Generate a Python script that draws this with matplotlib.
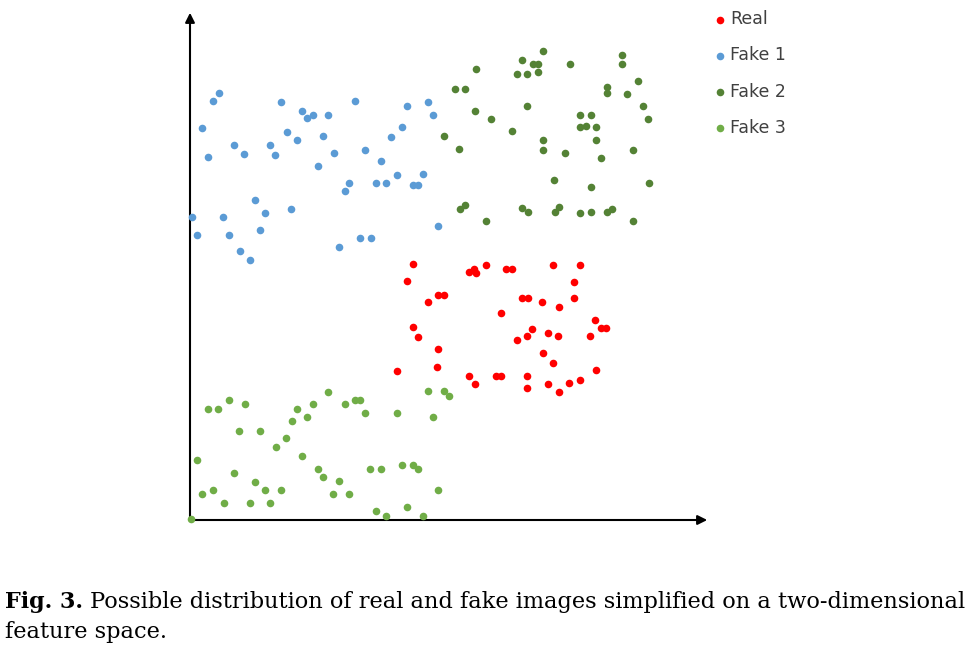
import matplotlib
matplotlib.use("Agg")
import matplotlib.pyplot as plt
import numpy as np

real_px = [(407,281),(413,264),(428,302),(438,295),(444,295),(469,272),(474,269),(476,273),(486,265),(506,269),(512,269),(553,265),(580,265),(574,282),(522,298),(528,298),(542,302),(559,307),(574,298),(501,313),(413,327),(418,337),(438,349),(532,329),(527,336),(517,340),(548,333),(558,336),(590,336),(595,320),(601,328),(606,328),(543,353),(553,363),(437,367),(397,371),(469,376),(475,384),(496,376),(501,376),(527,376),(527,388),(548,384),(559,392),(569,383),(580,380),(596,370)]
fake1_px = [(192,217),(197,235),(202,128),(208,157),(213,101),(219,93),(223,217),(229,235),(234,145),(240,251),(244,154),(250,260),(255,200),(260,230),(265,213),(270,145),(275,155),(281,102),(287,132),(291,209),(297,140),(302,111),(307,118),(313,115),(318,166),(323,136),(328,115),(334,153),(339,247),(345,191),(349,183),(355,101),(360,238),(365,150),(371,238),(376,183),(381,161),(386,183),(391,137),(397,175),(402,127),(407,106),(413,185),(418,185),(423,174),(428,102),(433,115),(438,226)]
fake2_px = [(455,89),(465,89),(476,69),(459,149),(465,205),(460,209),(475,111),(486,221),(491,119),(512,131),(517,74),(522,60),(527,74),(527,106),(533,64),(538,64),(538,72),(543,51),(522,208),(528,212),(543,140),(543,150),(554,180),(559,207),(565,153),(570,64),(580,115),(580,127),(586,126),(591,115),(596,127),(591,187),(591,212),(596,140),(601,158),(607,212),(607,93),(607,87),(612,209),(622,55),(622,64),(627,94),(633,150),(633,221),(638,81),(643,106),(648,119),(649,183),(580,213),(555,212),(444,136)]
fake3_px = [(191,519),(197,460),(202,494),(208,409),(213,490),(218,409),(224,503),(229,400),(234,473),(239,431),(245,404),(250,503),(255,482),(260,431),(265,490),(270,503),(276,447),(281,490),(286,438),(292,421),(297,409),(302,456),(307,417),(313,404),(318,469),(323,477),(328,392),(333,494),(339,481),(345,404),(349,494),(355,400),(360,400),(365,413),(370,469),(376,511),(381,469),(386,516),(397,413),(402,465),(407,507),(413,465),(418,469),(423,516),(428,391),(433,417),(438,490),(444,391),(449,396)]

def conv(pts):
    a = np.array(pts, float)
    return (a[:,0]-190)/10, (520-a[:,1])/10

series = [("Real", real_px, "#ff0000"), ("Fake 1", fake1_px, "#5b9bd5"),
          ("Fake 2", fake2_px, "#548235"), ("Fake 3", fake3_px, "#70ad47")]

fig = plt.figure(figsize=(9.75, 6.49), dpi=100)
ax = fig.add_axes([190/975, 129/649, 520/975, 510/649])
ax.set_xlim(0, 52); ax.set_ylim(0, 51)
for s in ax.spines.values(): s.set_visible(False)
ax.set_xticks([]); ax.set_yticks([])
ax.annotate("", xy=(52, 0), xytext=(-0.1, 0), xycoords="data",
            arrowprops=dict(arrowstyle="-|>", color="black", lw=1.5, mutation_scale=14), annotation_clip=False)
ax.annotate("", xy=(0, 51), xytext=(0, -0.1), xycoords="data",
            arrowprops=dict(arrowstyle="-|>", color="black", lw=1.5, mutation_scale=14), annotation_clip=False)
for name, pts, c in series:
    x, y = conv(pts)
    ax.scatter(x, y, s=30, color=c, label=name, clip_on=False, zorder=3, linewidths=0)

fig.legend(loc="upper left", bbox_to_anchor=(0.722, 0.995), frameon=False,
           fontsize=12.5, labelspacing=1.05, handletextpad=0.1, handlelength=1.0,
           markerscale=1.0, labelcolor="#404040", borderaxespad=0)

fig.text(5/975, 1-602/649, "Fig. 3.", fontsize=16, va="center", ha="left",
         family="DejaVu Serif", weight="bold")
fig.text(90/975, 1-602/649, "Possible distribution of real and fake images simplified on a two-dimensional",
         fontsize=16.2, va="center", ha="left", family="DejaVu Serif")
fig.text(5/975, 1-632/649, "feature space.", fontsize=16.2, va="center", ha="left",
         family="DejaVu Serif")
fig.savefig("out.png", dpi=100, facecolor="white")
